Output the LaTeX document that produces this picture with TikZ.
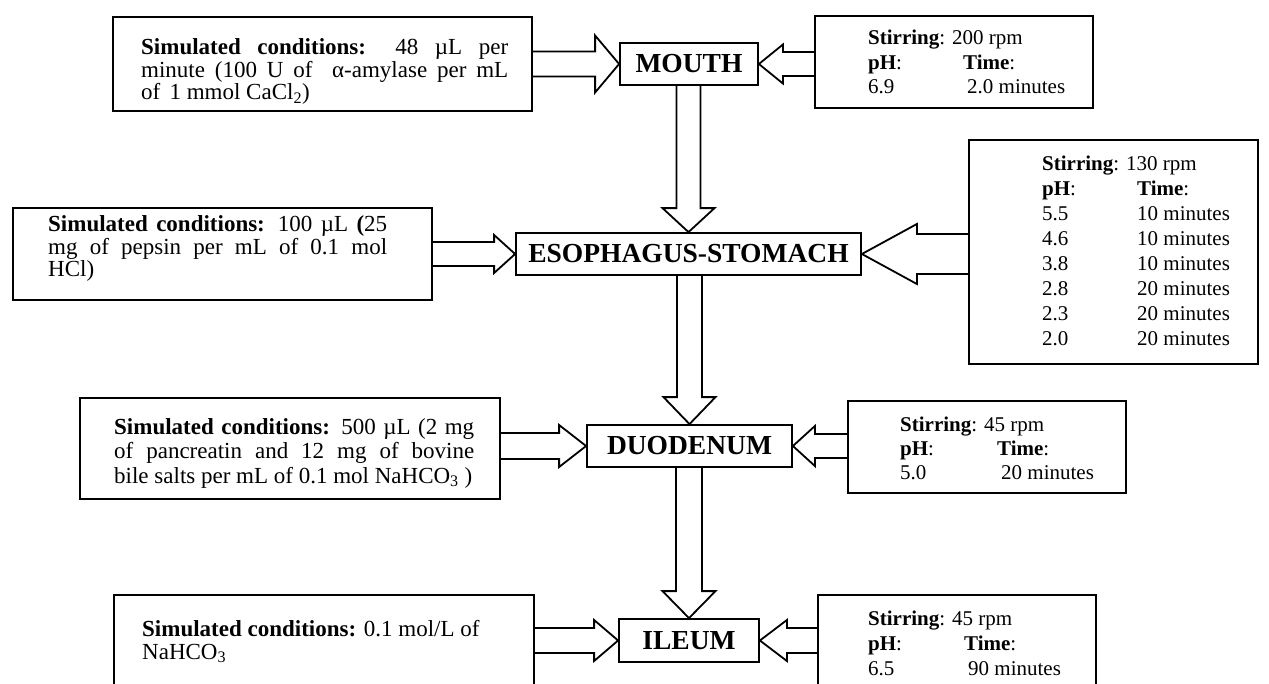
\documentclass[tikz,border=0pt]{standalone}
\usepackage{fontspec}
\setmainfont{Liberation Serif}
\usetikzlibrary{calc}
% block arrows between named nodes: source anchor, target anchor, shaft half, head half, head length
\newcommand{\blkR}[5]{\draw[blk] let \p1=(#1),\p2=(#2) in (\x1,\y2+#3) -- (\x2-#5,\y2+#3) -- (\x2-#5,\y2+#4) -- (\x2,\y2) -- (\x2-#5,\y2-#4) -- (\x2-#5,\y2-#3) -- (\x1,\y2-#3);}
\newcommand{\blkL}[5]{\draw[blk] let \p1=(#1),\p2=(#2) in (\x1,\y2+#3) -- (\x2+#5,\y2+#3) -- (\x2+#5,\y2+#4) -- (\x2,\y2) -- (\x2+#5,\y2-#4) -- (\x2+#5,\y2-#3) -- (\x1,\y2-#3);}
\newcommand{\blkD}[5]{\draw[blk] let \p1=(#1),\p2=(#2) in (\x2-#3,\y1) -- (\x2-#3,\y2+#5) -- (\x2-#4,\y2+#5) -- (\x2,\y2) -- (\x2+#4,\y2+#5) -- (\x2+#3,\y2+#5) -- (\x2+#3,\y1);}
\begin{document}
\begin{tikzpicture}[x=1pt,y=-1pt,
  box/.style={draw, line width=1.8pt, inner sep=0pt},
  organ/.style={box, font=\fontsize{27.5pt}{27.5pt}\selectfont\bfseries},
  blk/.style={draw, line width=1.8pt, line join=miter},
  lt/.style={inner sep=0pt, anchor=base west, font=\fontsize{23pt}{23pt}\selectfont},
  rt/.style={inner sep=0pt, anchor=base west, font=\fontsize{21pt}{21pt}\selectfont}]
\useasboundingbox (0,0) rectangle (1269,683);
\fill[white] (0,0) rectangle (1269,683);
\clip (0,0) rectangle (1269,683);

% boxes
\node[box, minimum width=419pt, minimum height=94pt] (L1) at (322.5,64) {};
\node[box, minimum width=278pt, minimum height=92pt] (R1) at (954,62) {};
\node[organ, minimum width=138pt, minimum height=42pt] (MOUTH) at (689,64) {MOUTH};
\node[box, minimum width=419pt, minimum height=92pt] (L2) at (222.5,254) {};
\node[organ, minimum width=345pt, minimum height=42pt] (ES) at (688.5,254) {ESOPHAGUS-STOMACH};
\node[box, minimum width=289pt, minimum height=224pt] (R2) at (1113.5,252) {};
\node[box, minimum width=420pt, minimum height=101pt] (L3) at (290,448.5) {};
\node[organ, minimum width=205pt, minimum height=42pt] (DUO) at (689.5,446) {DUODENUM};
\node[box, minimum width=278pt, minimum height=92pt] (R3) at (987,447) {};
\node[box, minimum width=420pt, minimum height=93pt] (L4) at (324,641.5) {};
\node[organ, minimum width=140pt, minimum height=43pt] (ILEUM) at (689,640.5) {ILEUM};
\node[box, minimum width=278pt, minimum height=93pt] (R4) at (957,641.5) {};

% arrows
\blkR{L1.east}{MOUTH.west}{12.5pt}{28.5pt}{24pt}
\blkL{R1.west}{MOUTH.east}{12pt}{19.5pt}{24pt}
\blkD{MOUTH.south}{ES.north}{12pt}{26pt}{24pt}
\blkR{L2.east}{ES.west}{12pt}{19pt}{21pt}
\blkL{R2.west}{ES.east}{20pt}{30pt}{55pt}
\blkD{ES.south}{DUO.north}{12.5pt}{26pt}{27pt}
\blkR{L3.east}{DUO.west}{13pt}{21pt}{27pt}
\blkL{R3.west}{DUO.east}{12pt}{20pt}{22pt}
\blkD{DUO.south}{ILEUM.north}{13pt}{26.5pt}{27pt}
\blkR{L4.east}{ILEUM.west}{12.5pt}{20.5pt}{24pt}
\blkL{R4.west}{ILEUM.east}{12.5pt}{20.5pt}{27pt}

% left texts
\node[lt] (L1a) at (141,54.5) {\makebox[367pt][s]{\textbf{Simulated conditions:} 48 µL per}};
\node[lt] (L1b) at (141,77) {\makebox[367pt][s]{minute (100 U of\ \ α-amylase per mL}};
\node[lt] (L1c) at (141,99.5) {of\hspace{0.15em} 1 mmol CaCl\textsubscript{2})};

\node[lt] (L2a) at (48,231.5) {\makebox[339pt][s]{\textbf{Simulated conditions:} 100 µL \textbf{(}25}};
\node[lt] (L2b) at (48,254) {\makebox[339pt][s]{mg of pepsin per mL of 0.1 mol}};
\node[lt] (L2c) at (48,276.5) {HCl)};

\node[lt] (L3a) at (114,434) {\makebox[360pt][s]{\textbf{Simulated conditions:} 500 µL (2 mg}};
\node[lt] (L3b) at (114,458.5) {\makebox[360pt][s]{of pancreatin and 12 mg of bovine}};
\node[lt] (L3c) at (114,483) {bile salts per mL of 0.1 mol NaHCO\textsubscript{3} )};

\node[lt] (L4a) at (142,636) {\textbf{Simulated conditions:} 0.1 mol/L of};
\node[lt] (L4b) at (142,659) {NaHCO\textsubscript{3}};

% right texts
\node[rt] (R1a) at (868,44) {\textbf{Stirring}: 200 rpm};
\node[rt] (R1b) at (868,69) {\textbf{pH}:};
\node[rt] (R1c) at (963,69) {\textbf{Time}:};
\node[rt] (R1d) at (868,93) {6.9};
\node[rt] (R1e) at (967,93) {2.0 minutes};

\node[rt] (R2a) at (1042,170) {\textbf{Stirring}: 130 rpm};
\node[rt] (R2b) at (1042,195) {\textbf{pH}:};
\node[rt] (R2c) at (1137,195) {\textbf{Time}:};
\node[rt] (R2d) at (1042,220) {5.5};
\node[rt] (R2e) at (1137,220) {10 minutes};
\node[rt] (R2f) at (1042,245) {4.6};
\node[rt] (R2g) at (1137,245) {10 minutes};
\node[rt] (R2h) at (1042,270) {3.8};
\node[rt] (R2i) at (1137,270) {10 minutes};
\node[rt] (R2j) at (1042,295) {2.8};
\node[rt] (R2k) at (1137,295) {20 minutes};
\node[rt] (R2l) at (1042,320) {2.3};
\node[rt] (R2m) at (1137,320) {20 minutes};
\node[rt] (R2n) at (1042,345) {2.0};
\node[rt] (R2o) at (1137,345) {20 minutes};

\node[rt] (R3a) at (900,431) {\textbf{Stirring}: 45 rpm};
\node[rt] (R3b) at (900,455) {\textbf{pH}:};
\node[rt] (R3c) at (997,455) {\textbf{Time}:};
\node[rt] (R3d) at (900,479) {5.0};
\node[rt] (R3e) at (1001,479) {20 minutes};

\node[rt] (R4a) at (868,625) {\textbf{Stirring}: 45 rpm};
\node[rt] (R4b) at (868,650) {\textbf{pH}:};
\node[rt] (R4c) at (964,650) {\textbf{Time}:};
\node[rt] (R4d) at (868,675) {6.5};
\node[rt] (R4e) at (968,675) {90 minutes};
\end{tikzpicture}
\end{document}
